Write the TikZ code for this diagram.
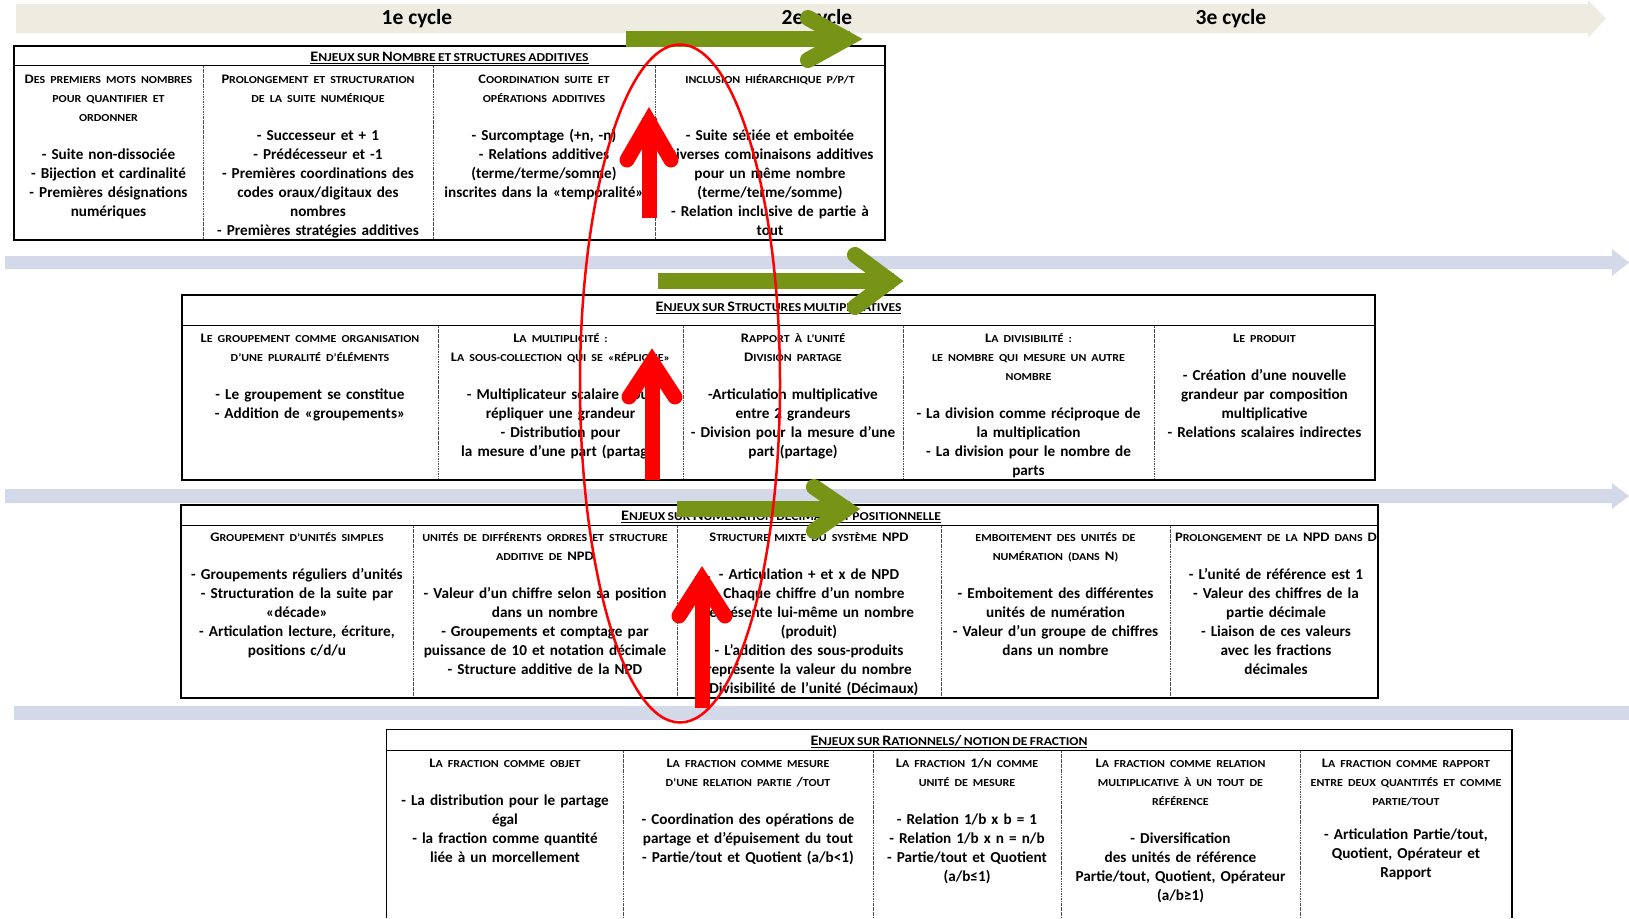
\documentclass[tikz,border=0pt]{standalone}
\usepackage{fontspec}
\setmainfont{Carlito}
\newfontfamily\hdfont[FakeStretch=1.12, WordSpace=0.75]{Carlito}
\newcommand\K[1]{{\fontsize{13}{19}\selectfont #1}}
\newcommand\KT[1]{{\fontsize{14.5}{19}\selectfont #1}}
\newcommand\HS{\hdfont\fontsize{10.7}{19}\selectfont}
\newcommand\TS{\hdfont\fontsize{12.1}{19}\selectfont}
\newcommand\hh[1]{{\HS #1}}
\definecolor{beigeband}{RGB}{238,236,225}
\definecolor{blueband}{RGB}{211,217,232}
\definecolor{olivearrow}{RGB}{120,148,22}
\definecolor{redarrow}{RGB}{255,0,0}
\begin{document}
\begin{tikzpicture}[x=1pt,y=-1pt,
  cell/.style={anchor=base, text width=300pt, align=center, inner sep=0pt, font=\bfseries\fontsize{15.2}{19}\selectfont},
  ttl/.style={anchor=base, inner sep=0pt, font=\bfseries\TS},
  cyc/.style={anchor=center, inner sep=0pt, font=\bfseries\fontsize{21.5}{24}\selectfont},
  frame/.style={draw=black, line width=1.3pt},
  hline/.style={draw=black, line width=1pt},
  divider/.style={draw=black!70, line width=0.7pt, dash pattern=on 2.5pt off 1pt on 0.6pt off 1pt},
  greenshaft/.style={draw=olivearrow, line width=16pt, line cap=butt},
  greenhead/.style={draw=olivearrow, line width=16pt, line cap=round, line join=miter},
  redshaft/.style={draw=redarrow, line width=15pt, line cap=butt},
  redhead/.style={draw=redarrow, line width=15pt, line cap=round, line join=miter}
]
\useasboundingbox (0,0) rectangle (1629,918);
\fill[white] (0,0) rectangle (1629,918);

% ---- bands ----
\fill[beigeband] (16,4) -- (1588,4) -- (1588,0) -- (1606,18.5) -- (1588,38) -- (1588,33) -- (16,33) -- cycle;
\fill[blueband] (5,256) -- (1612,256) -- (1612,249) -- (1629,262.5) -- (1612,276) -- (1612,269) -- (5,269) -- cycle;
\fill[blueband] (5,489) -- (1612,489) -- (1612,483) -- (1629,496) -- (1612,509) -- (1612,503) -- (5,503) -- cycle;
\fill[blueband] (13.5,706) -- (1629,706) -- (1629,720) -- (13.5,720) -- cycle;
\node[cyc] (c1) at (417,19) {1e cycle};
\node[cyc] (c2) at (817,19) {2e cycle};
\node[cyc] (c3) at (1231,19) {3e cycle};

% ---- table 1 ----
\fill[white] (14,46) rectangle (885,240);
\draw[divider] (203,65) -- (203,240) (433,65) -- (433,240) (655,65) -- (655,240);
\draw[hline] (14,65) -- (885,65);
\draw[frame] (14,46) rectangle (885,240);
\node[ttl] (t1) at (449.5,61.5) {\underline{\KT{E}NJEUX SUR \KT{N}OMBRE ET STRUCTURES ADDITIVES}};
\node[cell] (t1a) at (108.5,83.5) {\hh{\K{D}ES PREMIERS MOTS NOMBRES}\\ \hh{POUR QUANTIFIER ET}\\ \hh{ORDONNER}\\[19pt] - Suite non-dissociée\\ - Bijection et cardinalité\\ - Premières désignations\\ numériques};
\node[cell] (t1b) at (318,83.5) {\hh{\K{P}ROLONGEMENT ET STRUCTURATION}\\ \hh{DE LA SUITE NUMÉRIQUE}\\[19pt] - Successeur et + 1\\ - Prédécesseur et -1\\ - Premières coordinations des\\ codes oraux/digitaux des\\ nombres\\ - Premières stratégies additives};
\node[cell] (t1c) at (544,83.5) {\hh{\K{C}OORDINATION  SUITE ET}\\ \hh{OPÉRATIONS ADDITIVES}\\[19pt] - Surcomptage (+n, -n)\\ - Relations additives\\ (terme/terme/somme)\\ inscrites dans la «temporalité»};
\node[cell] (t1d) at (770,83.5) {\hh{INCLUSION HIÉRARCHIQUE P/P/T}\\[38pt] -  Suite sériée et emboitée\\ Diverses combinaisons additives\\ pour un même nombre\\ (terme/terme/somme)\\ - Relation inclusive de partie à\\ tout};

% ---- table 2 ----
\fill[white] (182,295) rectangle (1375,480);
\draw[divider] (438,325) -- (438,480) (683,325) -- (683,480) (903,325) -- (903,480) (1154,325) -- (1154,480);
\draw[hline] (182,325) -- (1375,325);
\draw[frame] (182,295) rectangle (1375,480);
\node[ttl] (t2) at (778.5,311.5) {\underline{\KT{E}NJEUX SUR \KT{S}TRUCTURES MULTIPLICATIVES}};
\node[cell] (t2a) at (310,342.5) {\hh{\K{L}E GROUPEMENT COMME ORGANISATION}\\ \hh{D’UNE PLURALITÉ D’ÉLÉMENTS}\\[19pt] -  Le groupement se constitue\\ -  Addition de «groupements»};
\node[cell] (t2b) at (560.5,342.5) {\hh{\K{L}A MULTIPLICITÉ :}\\ \hh{\K{L}A SOUS-COLLECTION QUI SE «RÉPLIQUE»}\\[19pt] - Multiplicateur scalaire pour\\ répliquer une grandeur\\ -  Distribution pour\\ la mesure d’une part  (partage)};
\node[cell] (t2c) at (793,342.5) {\hh{\K{R}APPORT À L’UNITÉ}\\ \hh{\K{D}IVISION PARTAGE}\\[19pt] -Articulation multiplicative\\ entre 2 grandeurs\\ - Division pour la mesure d’une\\ part  (partage)};
\node[cell] (t2d) at (1028.5,342.5) {\hh{\K{L}A DIVISIBILITÉ :}\\ \hh{LE NOMBRE QUI MESURE UN AUTRE}\\ \hh{NOMBRE}\\[19pt] - La division comme réciproque de\\ la multiplication\\ - La division pour le nombre de\\ parts};
\node[cell] (t2e) at (1264.5,342.5) {\hh{\K{L}E PRODUIT}\\[19pt] - Création d’une nouvelle\\ grandeur par composition\\ multiplicative\\ - Relations scalaires indirectes};

% ---- table 3 ----
\fill[white] (181,505) rectangle (1378,698);
\draw[divider] (413.5,525) -- (413.5,698) (677,525) -- (677,698) (941,525) -- (941,698) (1170,525) -- (1170,698);
\draw[hline] (181,525) -- (1378,525);
\draw[frame] (181,505) rectangle (1378,698);
\node[ttl] (t3) at (781,520.5) {\underline{\KT{E}NJEUX SUR \KT{N}UMÉRATION DÉCIMALE ET POSITIONNELLE}};
\node[cell] (t3a) at (297,541.5) {\hh{\K{G}ROUPEMENT D’UNITÉS SIMPLES}\\[19pt] - Groupements réguliers d’unités\\ - Structuration de la suite par\\ «décade»\\ - Articulation lecture, écriture,\\ positions c/d/u};
\node[cell] (t3b) at (545,541.5) {\hh{UNITÉS DE DIFFÉRENTS ORDRES ET STRUCTURE}\\ \hh{ADDITIVE DE \K{NPD}}\\[19pt] -  Valeur d’un chiffre selon sa position\\ dans un nombre\\ - Groupements et comptage par\\ puissance de 10 et notation décimale\\ -  Structure additive de la NPD};
\node[cell] (t3c) at (809,541.5) {\hh{\K{S}TRUCTURE MIXTE DU SYSTÈME \K{NPD}}\\[19pt] - Articulation + et x de NPD\\ - Chaque chiffre d’un nombre\\ représente lui-même un nombre\\ (produit)\\ - L’addition des sous-produits\\ représente la valeur du nombre\\ - Divisibilité de l’unité (Décimaux)};
\node[cell] (t3d) at (1055.5,541.5) {\hh{EMBOITEMENT DES UNITÉS DE}\\ \hh{NUMÉRATION (DANS \K{N})}\\[19pt] - Emboitement des différentes\\ unités de numération\\ - Valeur d’un groupe de chiffres\\ dans un nombre};
\node[cell] (t3e) at (1276,541.5) {\hh{\K{P}ROLONGEMENT DE LA \K{NPD} DANS \K{D}}\\[19pt] -  L’unité de référence est 1\\ -  Valeur des chiffres de la\\ partie décimale\\ -  Liaison de ces valeurs\\ avec les fractions\\ décimales};

% ---- table 4 ----
\fill[white] (386.5,729.5) rectangle (1512,918);
\draw[divider] (623,750) -- (623,918) (873,750) -- (873,918) (1061,750) -- (1061,918) (1300,750) -- (1300,918);
\draw[hline] (386.5,750) -- (1512,750);
\draw[frame] (386.5,918) -- (386.5,729.5) -- (1512,729.5) -- (1512,918);
\node[ttl] (t4) at (949,745) {\underline{\KT{E}NJEUX SUR \KT{R}ATIONNELS\KT{/} NOTION DE FRACTION}};
\node[cell] (t4a) at (505,767) {\hh{\K{L}A FRACTION COMME OBJET}\\[19pt] - La distribution pour le partage\\ égal\\ - la fraction comme quantité\\ liée à un morcellement};
\node[cell] (t4b) at (748,767) {\hh{\K{L}A FRACTION COMME MESURE}\\ \hh{D’UNE RELATION PARTIE \K{/}TOUT}\\[19pt] - Coordination des opérations de\\ partage et d’épuisement du tout\\ - Partie/tout et Quotient (a/b<1)};
\node[cell] (t4c) at (967,767) {\hh{\K{L}A FRACTION \K{1/}N COMME}\\ \hh{UNITÉ DE MESURE}\\[19pt] - Relation 1/b x b = 1\\ - Relation 1/b x n = n/b\\ - Partie/tout et Quotient\\ (a/b≤1)};
\node[cell] (t4d) at (1180.5,767) {\hh{\K{L}A FRACTION COMME RELATION}\\ \hh{MULTIPLICATIVE À UN TOUT DE}\\ \hh{RÉFÉRENCE}\\[19pt] - Diversification\\ des unités de référence\\ Partie/tout, Quotient, Opérateur\\ (a/b≥1)};
\node[cell] (t4e) at (1406,767) {\hh{\K{L}A FRACTION COMME RAPPORT}\\ \hh{ENTRE DEUX QUANTITÉS ET COMME}\\ \hh{PARTIE/TOUT}\\[15pt] - Articulation Partie/tout,\\ Quotient, Opérateur et\\ Rapport};

% ---- green arrows ----
\draw[greenshaft] (626,39) -- (850,39);
\draw[greenhead] (808,18) -- (846,39) -- (808,60);
\draw[greenshaft] (658,281) -- (894,281);
\draw[greenhead] (855,255) -- (890,281) -- (855,307);
\draw[greenshaft] (677,509) -- (850,509);
\draw[greenhead] (814,487) -- (846,509) -- (814,531);

% ---- red ellipse ----
\draw[redarrow, line width=2.5pt] (680,383.5) ellipse [x radius=100, y radius=339];

% ---- red arrows ----
\draw[redshaft] (649,218) -- (649,118);
\draw[redhead] (627,160) -- (649,122) -- (671,160);
\draw[redshaft] (652,480) -- (652,358);
\draw[redhead] (629,397) -- (652,362) -- (675,397);
\draw[redshaft] (702,708) -- (702,576);
\draw[redhead] (679,616) -- (702,580) -- (725,616);
\end{tikzpicture}
\end{document}
